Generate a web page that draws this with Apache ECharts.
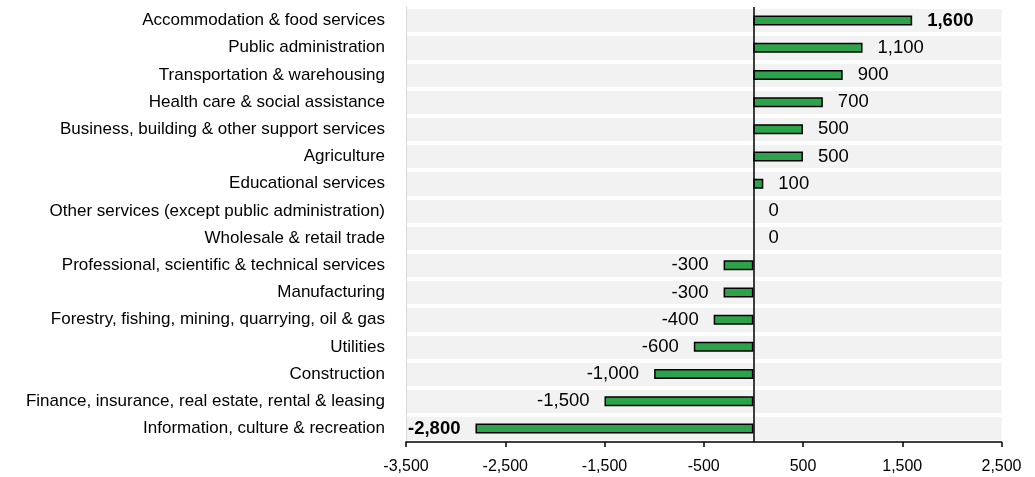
<!DOCTYPE html>
<html>
<head>
<meta charset="utf-8">
<script src="https://cdn.jsdelivr.net/npm/echarts@6/dist/echarts.min.js"></script>
<style>html,body{margin:0;padding:0;background:#fff;}#chart{width:1035px;height:477px;}</style>
</head>
<body>
<div id="chart"></div>
<script>
var categories = [
  "Accommodation & food services",
  "Public administration",
  "Transportation & warehousing",
  "Health care & social assistance",
  "Business, building & other support services",
  "Agriculture",
  "Educational services",
  "Other services (except public administration)",
  "Wholesale & retail trade",
  "Professional, scientific & technical services",
  "Manufacturing",
  "Forestry, fishing, mining, quarrying, oil & gas",
  "Utilities",
  "Construction",
  "Finance, insurance, real estate, rental & leasing",
  "Information, culture & recreation"
];
var values = [1600, 1100, 900, 700, 500, 500, 100, 0, 0, -300, -300, -400, -600, -1000, -1500, -2800];
var axisMin = -3500, axisMax = 2500, axisStep = 1000;

function fmt(v) { return Number(v).toLocaleString('en-US'); }
var maxV = Math.max.apply(null, values), minV = Math.min.apply(null, values);

var barData = values.map(function (v) {
  var bold = (v === maxV || v === minV);
  return {
    value: v,
    itemStyle: v === 0 ? {borderWidth: 0} : undefined,
    label: {
      position: v < 0 ? 'left' : 'right',
      fontWeight: bold ? 'bold' : 'normal'
    }
  };
});

var FONT = 'Liberation Sans, Arial, sans-serif';
var chart = echarts.init(document.getElementById('chart'), null, {renderer: 'canvas'});
chart.setOption({
  animation: false,
  grid: {
    left: 406, right: 33.5, top: 7, bottom: 35,
    show: true, backgroundColor: '#f2f2f2', borderWidth: 0
  },
  xAxis: {
    type: 'value',
    min: axisMin, max: axisMax, interval: axisStep,
    axisLine: {show: true, onZero: false, lineStyle: {color: '#000', width: 1.5}},
    axisTick: {show: true, length: 5, lineStyle: {color: '#000', width: 1.5}},
    splitLine: {show: false},
    axisLabel: {
      color: '#000', fontSize: 16, fontFamily: FONT,
      margin: 17, formatter: function (v) { return fmt(v); }
    }
  },
  yAxis: {
    type: 'category',
    data: categories,
    inverse: true,
    axisLine: {show: true, onZero: false, lineStyle: {color: '#d9d9d9', width: 1}},
    axisTick: {show: false},
    splitLine: {show: true, lineStyle: {color: '#ffffff', width: 4}},
    axisLabel: {
      color: '#000', fontSize: 17, fontFamily: FONT,
      margin: 21
    }
  },
  series: [{
    type: 'bar',
    data: barData,
    barWidth: 10,
    itemStyle: {color: '#2ca34a', borderColor: '#000', borderWidth: 1.5},
    label: {
      show: true, distance: 15, color: '#000', fontSize: 18.5,
      fontFamily: FONT,
      formatter: function (p) { return fmt(p.value); }
    },
    markLine: {
      silent: true, symbol: 'none',
      label: {show: false},
      lineStyle: {color: '#000', width: 1.5, type: 'solid'},
      data: [{xAxis: 0}]
    }
  }]
});
</script>
</body>
</html>
